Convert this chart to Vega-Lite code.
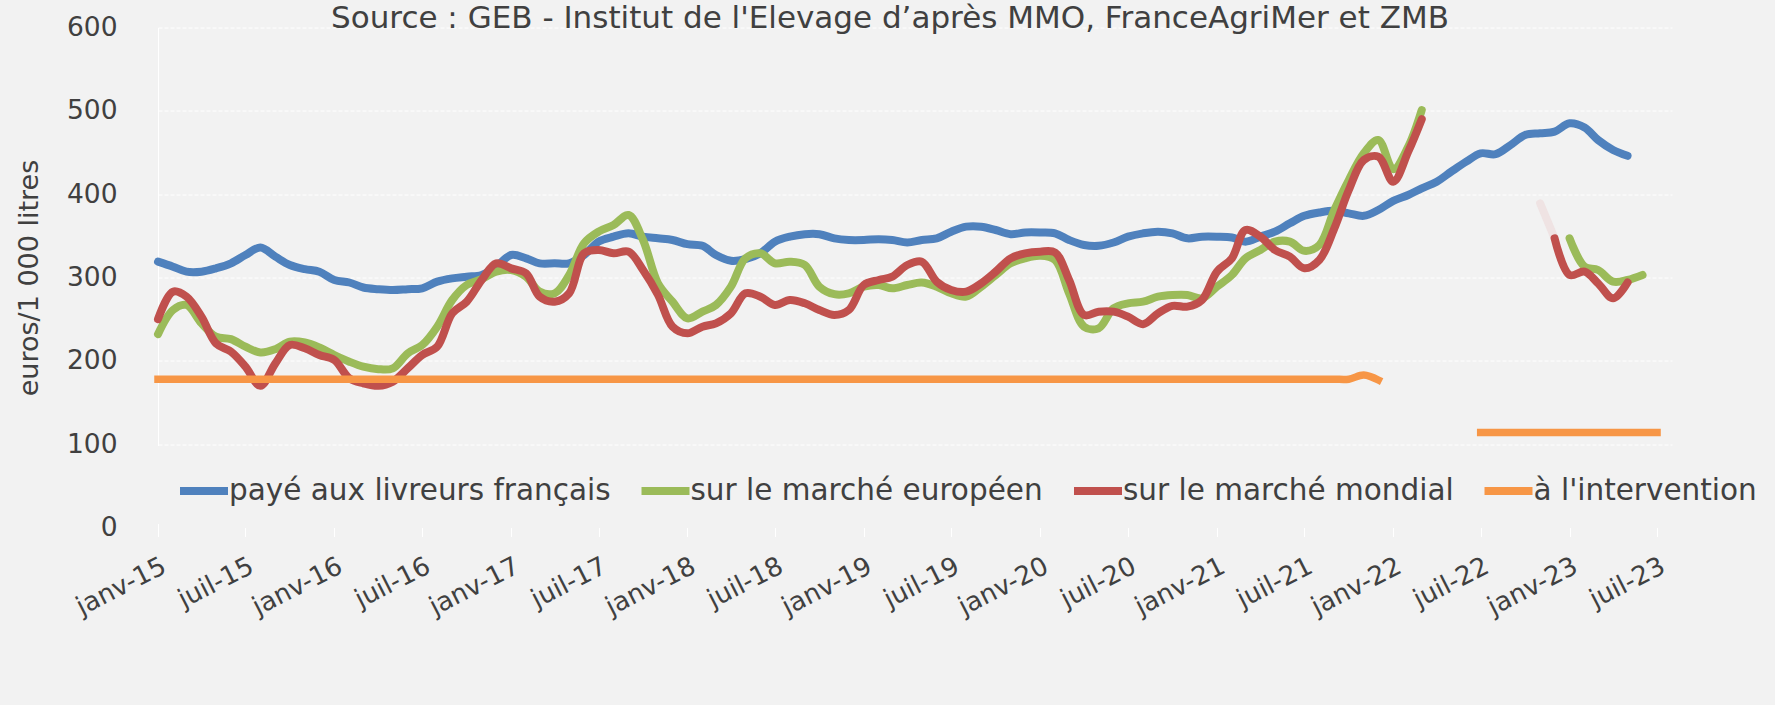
{
  "$schema": "https://vega.github.io/schema/vega-lite/v6.json",
  "width": 1514,
  "height": 500,
  "autosize": {"type": "none"},
  "padding": {"left": 158, "top": 27.5, "right": 103, "bottom": 177.5},
  "background": "#f2f2f2",
  "title": {
    "text": "Source : GEB - Institut de l'Elevage d’après MMO, FranceAgriMer et ZMB",
    "font": "DejaVu Sans", "fontSize": 31, "fontWeight": "normal", "color": "#404040",
    "anchor": "middle", "frame": "group", "offset": 0, "dx": -25, "dy": 20
  },
  "datasets": {
    "paye": [
      {"mois": "2015-01", "valeur": 319}, {"mois": "2015-02", "valeur": 313}, {"mois": "2015-03", "valeur": 307}, {"mois": "2015-04", "valeur": 307},
      {"mois": "2015-05", "valeur": 311}, {"mois": "2015-06", "valeur": 317}, {"mois": "2015-07", "valeur": 327}, {"mois": "2015-08", "valeur": 336},
      {"mois": "2015-09", "valeur": 325}, {"mois": "2015-10", "valeur": 315}, {"mois": "2015-11", "valeur": 310}, {"mois": "2015-12", "valeur": 307},
      {"mois": "2016-01", "valeur": 297}, {"mois": "2016-02", "valeur": 294}, {"mois": "2016-03", "valeur": 288}, {"mois": "2016-04", "valeur": 286},
      {"mois": "2016-05", "valeur": 285}, {"mois": "2016-06", "valeur": 286}, {"mois": "2016-07", "valeur": 287}, {"mois": "2016-08", "valeur": 295},
      {"mois": "2016-09", "valeur": 299}, {"mois": "2016-10", "valeur": 301}, {"mois": "2016-11", "valeur": 303}, {"mois": "2016-12", "valeur": 313},
      {"mois": "2017-01", "valeur": 327}, {"mois": "2017-02", "valeur": 323}, {"mois": "2017-03", "valeur": 317}, {"mois": "2017-04", "valeur": 317},
      {"mois": "2017-05", "valeur": 317}, {"mois": "2017-06", "valeur": 327}, {"mois": "2017-07", "valeur": 343}, {"mois": "2017-08", "valeur": 349},
      {"mois": "2017-09", "valeur": 353}, {"mois": "2017-10", "valeur": 349}, {"mois": "2017-11", "valeur": 347}, {"mois": "2017-12", "valeur": 345},
      {"mois": "2018-01", "valeur": 340}, {"mois": "2018-02", "valeur": 338}, {"mois": "2018-03", "valeur": 327}, {"mois": "2018-04", "valeur": 320},
      {"mois": "2018-05", "valeur": 322}, {"mois": "2018-06", "valeur": 329}, {"mois": "2018-07", "valeur": 343}, {"mois": "2018-08", "valeur": 349},
      {"mois": "2018-09", "valeur": 352}, {"mois": "2018-10", "valeur": 352}, {"mois": "2018-11", "valeur": 347}, {"mois": "2018-12", "valeur": 345},
      {"mois": "2019-01", "valeur": 345}, {"mois": "2019-02", "valeur": 346}, {"mois": "2019-03", "valeur": 345}, {"mois": "2019-04", "valeur": 342},
      {"mois": "2019-05", "valeur": 345}, {"mois": "2019-06", "valeur": 347}, {"mois": "2019-07", "valeur": 355}, {"mois": "2019-08", "valeur": 361},
      {"mois": "2019-09", "valeur": 361}, {"mois": "2019-10", "valeur": 357}, {"mois": "2019-11", "valeur": 352}, {"mois": "2019-12", "valeur": 354},
      {"mois": "2020-01", "valeur": 354}, {"mois": "2020-02", "valeur": 353}, {"mois": "2020-03", "valeur": 345}, {"mois": "2020-04", "valeur": 339},
      {"mois": "2020-05", "valeur": 338}, {"mois": "2020-06", "valeur": 342}, {"mois": "2020-07", "valeur": 349}, {"mois": "2020-08", "valeur": 353},
      {"mois": "2020-09", "valeur": 355}, {"mois": "2020-10", "valeur": 353}, {"mois": "2020-11", "valeur": 347}, {"mois": "2020-12", "valeur": 349},
      {"mois": "2021-01", "valeur": 349}, {"mois": "2021-02", "valeur": 348}, {"mois": "2021-03", "valeur": 343}, {"mois": "2021-04", "valeur": 349},
      {"mois": "2021-05", "valeur": 355}, {"mois": "2021-06", "valeur": 365}, {"mois": "2021-07", "valeur": 374}, {"mois": "2021-08", "valeur": 378},
      {"mois": "2021-09", "valeur": 380}, {"mois": "2021-10", "valeur": 377}, {"mois": "2021-11", "valeur": 374}, {"mois": "2021-12", "valeur": 381},
      {"mois": "2022-01", "valeur": 392}, {"mois": "2022-02", "valeur": 399}, {"mois": "2022-03", "valeur": 407}, {"mois": "2022-04", "valeur": 415},
      {"mois": "2022-05", "valeur": 427}, {"mois": "2022-06", "valeur": 439}, {"mois": "2022-07", "valeur": 449}, {"mois": "2022-08", "valeur": 448},
      {"mois": "2022-09", "valeur": 459}, {"mois": "2022-10", "valeur": 471}, {"mois": "2022-11", "valeur": 473}, {"mois": "2022-12", "valeur": 475},
      {"mois": "2023-01", "valeur": 485}, {"mois": "2023-02", "valeur": 480}, {"mois": "2023-03", "valeur": 465}, {"mois": "2023-04", "valeur": 453},
      {"mois": "2023-05", "valeur": 446}
    ],
    "europeen": [
      {"mois": "2015-01", "valeur": 232}, {"mois": "2015-02", "valeur": 261}, {"mois": "2015-03", "valeur": 267}, {"mois": "2015-04", "valeur": 245},
      {"mois": "2015-05", "valeur": 229}, {"mois": "2015-06", "valeur": 226}, {"mois": "2015-07", "valeur": 217}, {"mois": "2015-08", "valeur": 210},
      {"mois": "2015-09", "valeur": 214}, {"mois": "2015-10", "valeur": 223}, {"mois": "2015-11", "valeur": 222}, {"mois": "2015-12", "valeur": 216},
      {"mois": "2016-01", "valeur": 207}, {"mois": "2016-02", "valeur": 199}, {"mois": "2016-03", "valeur": 193}, {"mois": "2016-04", "valeur": 190},
      {"mois": "2016-05", "valeur": 191}, {"mois": "2016-06", "valeur": 209}, {"mois": "2016-07", "valeur": 219}, {"mois": "2016-08", "valeur": 241},
      {"mois": "2016-09", "valeur": 273}, {"mois": "2016-10", "valeur": 291}, {"mois": "2016-11", "valeur": 298}, {"mois": "2016-12", "valeur": 307},
      {"mois": "2017-01", "valeur": 309}, {"mois": "2017-02", "valeur": 301}, {"mois": "2017-03", "valeur": 283}, {"mois": "2017-04", "valeur": 281},
      {"mois": "2017-05", "valeur": 303}, {"mois": "2017-06", "valeur": 341}, {"mois": "2017-07", "valeur": 355}, {"mois": "2017-08", "valeur": 363},
      {"mois": "2017-09", "valeur": 375}, {"mois": "2017-10", "valeur": 345}, {"mois": "2017-11", "valeur": 293}, {"mois": "2017-12", "valeur": 271},
      {"mois": "2018-01", "valeur": 251}, {"mois": "2018-02", "valeur": 259}, {"mois": "2018-03", "valeur": 267}, {"mois": "2018-04", "valeur": 289},
      {"mois": "2018-05", "valeur": 323}, {"mois": "2018-06", "valeur": 329}, {"mois": "2018-07", "valeur": 317}, {"mois": "2018-08", "valeur": 319},
      {"mois": "2018-09", "valeur": 315}, {"mois": "2018-10", "valeur": 289}, {"mois": "2018-11", "valeur": 280}, {"mois": "2018-12", "valeur": 281},
      {"mois": "2019-01", "valeur": 289}, {"mois": "2019-02", "valeur": 291}, {"mois": "2019-03", "valeur": 287}, {"mois": "2019-04", "valeur": 291},
      {"mois": "2019-05", "valeur": 294}, {"mois": "2019-06", "valeur": 289}, {"mois": "2019-07", "valeur": 281}, {"mois": "2019-08", "valeur": 277},
      {"mois": "2019-09", "valeur": 289}, {"mois": "2019-10", "valeur": 303}, {"mois": "2019-11", "valeur": 317}, {"mois": "2019-12", "valeur": 323},
      {"mois": "2020-01", "valeur": 326}, {"mois": "2020-02", "valeur": 321}, {"mois": "2020-03", "valeur": 281}, {"mois": "2020-04", "valeur": 241},
      {"mois": "2020-05", "valeur": 239}, {"mois": "2020-06", "valeur": 263}, {"mois": "2020-07", "valeur": 269}, {"mois": "2020-08", "valeur": 271},
      {"mois": "2020-09", "valeur": 277}, {"mois": "2020-10", "valeur": 279}, {"mois": "2020-11", "valeur": 279}, {"mois": "2020-12", "valeur": 275},
      {"mois": "2021-01", "valeur": 289}, {"mois": "2021-02", "valeur": 303}, {"mois": "2021-03", "valeur": 323}, {"mois": "2021-04", "valeur": 333},
      {"mois": "2021-05", "valeur": 343}, {"mois": "2021-06", "valeur": 343}, {"mois": "2021-07", "valeur": 332}, {"mois": "2021-08", "valeur": 339},
      {"mois": "2021-09", "valeur": 381}, {"mois": "2021-10", "valeur": 417}, {"mois": "2021-11", "valeur": 449}, {"mois": "2021-12", "valeur": 465},
      {"mois": "2022-01", "valeur": 430}, {"mois": "2022-02", "valeur": 457}, {"mois": "2022-03", "valeur": 501},
      {"mois": "2022-07", "valeur": null},
      {"mois": "2023-01", "valeur": 347}, {"mois": "2023-02", "valeur": 313}, {"mois": "2023-03", "valeur": 309}, {"mois": "2023-04", "valeur": 295},
      {"mois": "2023-05", "valeur": 297}, {"mois": "2023-06", "valeur": 303}
    ],
    "mondial": [
      {"mois": "2015-01", "valeur": 250}, {"mois": "2015-02", "valeur": 283}, {"mois": "2015-03", "valeur": 277}, {"mois": "2015-04", "valeur": 253},
      {"mois": "2015-05", "valeur": 221}, {"mois": "2015-06", "valeur": 211}, {"mois": "2015-07", "valeur": 193}, {"mois": "2015-08", "valeur": 170},
      {"mois": "2015-09", "valeur": 197}, {"mois": "2015-10", "valeur": 219}, {"mois": "2015-11", "valeur": 215}, {"mois": "2015-12", "valeur": 207},
      {"mois": "2016-01", "valeur": 201}, {"mois": "2016-02", "valeur": 179}, {"mois": "2016-03", "valeur": 173}, {"mois": "2016-04", "valeur": 170},
      {"mois": "2016-05", "valeur": 175}, {"mois": "2016-06", "valeur": 191}, {"mois": "2016-07", "valeur": 207}, {"mois": "2016-08", "valeur": 217},
      {"mois": "2016-09", "valeur": 257}, {"mois": "2016-10", "valeur": 271}, {"mois": "2016-11", "valeur": 297}, {"mois": "2016-12", "valeur": 317},
      {"mois": "2017-01", "valeur": 311}, {"mois": "2017-02", "valeur": 305}, {"mois": "2017-03", "valeur": 277}, {"mois": "2017-04", "valeur": 271},
      {"mois": "2017-05", "valeur": 281}, {"mois": "2017-06", "valeur": 329}, {"mois": "2017-07", "valeur": 333}, {"mois": "2017-08", "valeur": 329},
      {"mois": "2017-09", "valeur": 331}, {"mois": "2017-10", "valeur": 309}, {"mois": "2017-11", "valeur": 279}, {"mois": "2017-12", "valeur": 241},
      {"mois": "2018-01", "valeur": 233}, {"mois": "2018-02", "valeur": 241}, {"mois": "2018-03", "valeur": 245}, {"mois": "2018-04", "valeur": 257},
      {"mois": "2018-05", "valeur": 281}, {"mois": "2018-06", "valeur": 277}, {"mois": "2018-07", "valeur": 267}, {"mois": "2018-08", "valeur": 273},
      {"mois": "2018-09", "valeur": 269}, {"mois": "2018-10", "valeur": 261}, {"mois": "2018-11", "valeur": 255}, {"mois": "2018-12", "valeur": 261},
      {"mois": "2019-01", "valeur": 291}, {"mois": "2019-02", "valeur": 297}, {"mois": "2019-03", "valeur": 301}, {"mois": "2019-04", "valeur": 315},
      {"mois": "2019-05", "valeur": 319}, {"mois": "2019-06", "valeur": 295}, {"mois": "2019-07", "valeur": 285}, {"mois": "2019-08", "valeur": 283},
      {"mois": "2019-09", "valeur": 293}, {"mois": "2019-10", "valeur": 307}, {"mois": "2019-11", "valeur": 323}, {"mois": "2019-12", "valeur": 329},
      {"mois": "2020-01", "valeur": 331}, {"mois": "2020-02", "valeur": 330}, {"mois": "2020-03", "valeur": 297}, {"mois": "2020-04", "valeur": 255},
      {"mois": "2020-05", "valeur": 259}, {"mois": "2020-06", "valeur": 259}, {"mois": "2020-07", "valeur": 253}, {"mois": "2020-08", "valeur": 244},
      {"mois": "2020-09", "valeur": 257}, {"mois": "2020-10", "valeur": 266}, {"mois": "2020-11", "valeur": 265}, {"mois": "2020-12", "valeur": 273},
      {"mois": "2021-01", "valeur": 307}, {"mois": "2021-02", "valeur": 323}, {"mois": "2021-03", "valeur": 357}, {"mois": "2021-04", "valeur": 349},
      {"mois": "2021-05", "valeur": 333}, {"mois": "2021-06", "valeur": 325}, {"mois": "2021-07", "valeur": 311}, {"mois": "2021-08", "valeur": 321},
      {"mois": "2021-09", "valeur": 359}, {"mois": "2021-10", "valeur": 405}, {"mois": "2021-11", "valeur": 441}, {"mois": "2021-12", "valeur": 445},
      {"mois": "2022-01", "valeur": 415}, {"mois": "2022-02", "valeur": 451}, {"mois": "2022-03", "valeur": 490},
      {"mois": "2022-07", "valeur": null},
      {"mois": "2022-11", "valeur": 389}, {"mois": "2022-12", "valeur": 347},
      {"mois": "2023-01", "valeur": 303}, {"mois": "2023-02", "valeur": 307}, {"mois": "2023-03", "valeur": 293}, {"mois": "2023-04", "valeur": 275},
      {"mois": "2023-05", "valeur": 294}
    ],
    "intervention": [
      {"mois": "2015-01", "valeur": 178}, {"mois": "2015-02", "valeur": 178}, {"mois": "2015-03", "valeur": 178}, {"mois": "2015-04", "valeur": 178},
      {"mois": "2015-05", "valeur": 178}, {"mois": "2015-06", "valeur": 178}, {"mois": "2015-07", "valeur": 178}, {"mois": "2015-08", "valeur": 178},
      {"mois": "2015-09", "valeur": 178}, {"mois": "2015-10", "valeur": 178}, {"mois": "2015-11", "valeur": 178}, {"mois": "2015-12", "valeur": 178},
      {"mois": "2016-01", "valeur": 178}, {"mois": "2016-02", "valeur": 178}, {"mois": "2016-03", "valeur": 178}, {"mois": "2016-04", "valeur": 178},
      {"mois": "2016-05", "valeur": 178}, {"mois": "2016-06", "valeur": 178}, {"mois": "2016-07", "valeur": 178}, {"mois": "2016-08", "valeur": 178},
      {"mois": "2016-09", "valeur": 178}, {"mois": "2016-10", "valeur": 178}, {"mois": "2016-11", "valeur": 178}, {"mois": "2016-12", "valeur": 178},
      {"mois": "2017-01", "valeur": 178}, {"mois": "2017-02", "valeur": 178}, {"mois": "2017-03", "valeur": 178}, {"mois": "2017-04", "valeur": 178},
      {"mois": "2017-05", "valeur": 178}, {"mois": "2017-06", "valeur": 178}, {"mois": "2017-07", "valeur": 178}, {"mois": "2017-08", "valeur": 178},
      {"mois": "2017-09", "valeur": 178}, {"mois": "2017-10", "valeur": 178}, {"mois": "2017-11", "valeur": 178}, {"mois": "2017-12", "valeur": 178},
      {"mois": "2018-01", "valeur": 178}, {"mois": "2018-02", "valeur": 178}, {"mois": "2018-03", "valeur": 178}, {"mois": "2018-04", "valeur": 178},
      {"mois": "2018-05", "valeur": 178}, {"mois": "2018-06", "valeur": 178}, {"mois": "2018-07", "valeur": 178}, {"mois": "2018-08", "valeur": 178},
      {"mois": "2018-09", "valeur": 178}, {"mois": "2018-10", "valeur": 178}, {"mois": "2018-11", "valeur": 178}, {"mois": "2018-12", "valeur": 178},
      {"mois": "2019-01", "valeur": 178}, {"mois": "2019-02", "valeur": 178}, {"mois": "2019-03", "valeur": 178}, {"mois": "2019-04", "valeur": 178},
      {"mois": "2019-05", "valeur": 178}, {"mois": "2019-06", "valeur": 178}, {"mois": "2019-07", "valeur": 178}, {"mois": "2019-08", "valeur": 178},
      {"mois": "2019-09", "valeur": 178}, {"mois": "2019-10", "valeur": 178}, {"mois": "2019-11", "valeur": 178}, {"mois": "2019-12", "valeur": 178},
      {"mois": "2020-01", "valeur": 178}, {"mois": "2020-02", "valeur": 178}, {"mois": "2020-03", "valeur": 178}, {"mois": "2020-04", "valeur": 178},
      {"mois": "2020-05", "valeur": 178}, {"mois": "2020-06", "valeur": 178}, {"mois": "2020-07", "valeur": 178}, {"mois": "2020-08", "valeur": 178},
      {"mois": "2020-09", "valeur": 178}, {"mois": "2020-10", "valeur": 178}, {"mois": "2020-11", "valeur": 178}, {"mois": "2020-12", "valeur": 178},
      {"mois": "2021-01", "valeur": 178}, {"mois": "2021-02", "valeur": 178}, {"mois": "2021-03", "valeur": 178}, {"mois": "2021-04", "valeur": 178},
      {"mois": "2021-05", "valeur": 178}, {"mois": "2021-06", "valeur": 178}, {"mois": "2021-07", "valeur": 178}, {"mois": "2021-08", "valeur": 178},
      {"mois": "2021-09", "valeur": 178}, {"mois": "2021-10", "valeur": 178}, {"mois": "2021-11", "valeur": 183}, {"mois": "2021-12", "valeur": 177},
      {"mois": "2022-03", "valeur": null},
      {"mois": "2022-07", "valeur": 114}, {"mois": "2022-08", "valeur": 114}, {"mois": "2022-09", "valeur": 114}, {"mois": "2022-10", "valeur": 114},
      {"mois": "2022-11", "valeur": 114}, {"mois": "2022-12", "valeur": 114}, {"mois": "2023-01", "valeur": 114}, {"mois": "2023-02", "valeur": 114},
      {"mois": "2023-03", "valeur": 114}, {"mois": "2023-04", "valeur": 114}, {"mois": "2023-05", "valeur": 114}, {"mois": "2023-06", "valeur": 114},
      {"mois": "2023-07", "valeur": 114}
    ]
  },
  "encoding": {
    "x": {
      "field": "mois", "timeUnit": "utcyearmonth", "type": "temporal", "title": null,
      "scale": {"domain": [{"year": 2015, "month": 1, "date": 1, "utc": true}, {"year": 2023, "month": 8, "date": 1, "utc": true}], "nice": false},
      "axis": {
        "values": [
          {"year": 2015, "month": 1, "date": 1, "utc": true}, {"year": 2015, "month": 7, "date": 1, "utc": true},
          {"year": 2016, "month": 1, "date": 1, "utc": true}, {"year": 2016, "month": 7, "date": 1, "utc": true},
          {"year": 2017, "month": 1, "date": 1, "utc": true}, {"year": 2017, "month": 7, "date": 1, "utc": true},
          {"year": 2018, "month": 1, "date": 1, "utc": true}, {"year": 2018, "month": 7, "date": 1, "utc": true},
          {"year": 2019, "month": 1, "date": 1, "utc": true}, {"year": 2019, "month": 7, "date": 1, "utc": true},
          {"year": 2020, "month": 1, "date": 1, "utc": true}, {"year": 2020, "month": 7, "date": 1, "utc": true},
          {"year": 2021, "month": 1, "date": 1, "utc": true}, {"year": 2021, "month": 7, "date": 1, "utc": true},
          {"year": 2022, "month": 1, "date": 1, "utc": true}, {"year": 2022, "month": 7, "date": 1, "utc": true},
          {"year": 2023, "month": 1, "date": 1, "utc": true}, {"year": 2023, "month": 7, "date": 1, "utc": true}
        ],
        "labelExpr": "(utcmonth(datum.value) == 0 ? 'janv-' : 'juil-') + utcFormat(datum.value, '%y')",
        "labelAngle": -27, "labelAlign": "right", "labelBaseline": "top",
        "labelFont": "DejaVu Sans", "labelFontSize": 26, "labelColor": "#404040",
        "labelPadding": 16, "labelOffset": 0, "labelOverlap": false, "labelBound": false, "labelFlush": false,
        "domain": false, "grid": false, "ticks": true, "tickColor": "#ffffff", "tickSize": 9, "tickWidth": 1
      }
    },
    "y": {
      "field": "valeur", "type": "quantitative", "title": "euros/1 000 litres",
      "scale": {"domain": [0, 600], "nice": false},
      "axis": {
        "values": [0, 100, 200, 300, 400, 500, 600],
        "labelFont": "DejaVu Sans", "labelFontSize": 26.5, "labelColor": "#404040", "labelPadding": 41,
        "ticks": false, "domain": true, "domainColor": "#ffffff", "domainWidth": 1,
        "grid": true, "gridColor": "#ffffff", "gridWidth": 1, "gridDash": [4, 2],
        "gridOpacity": {"condition": {"test": "datum.value == 0", "value": 0}, "value": 1},
        "titleFont": "DejaVu Sans", "titleFontSize": 27, "titleFontWeight": "normal", "titleColor": "#404040",
        "titleX": -129, "titleY": 250, "titleAngle": -90, "titleBaseline": "middle", "titleAlign": "center"
      }
    }
  },
  "layer": [
    {
      "data": {"name": "paye"},
      "mark": {"type": "line", "strokeWidth": 8, "strokeCap": "round", "strokeJoin": "round", "interpolate": "catmull-rom", "timeUnitBandPosition": 0.5, "invalid": "break-paths-filter-domains"},
      "encoding": {
        "color": {
          "datum": "payé aux livreurs français", "type": "nominal",
          "scale": {"domain": ["payé aux livreurs français", "sur le marché européen", "sur le marché mondial", "à l'intervention"], "range": ["#4f81bd", "#9bbb59", "#c0504d", "#f79646"]},
          "legend": {
            "orient": "none", "legendX": -9, "legendY": 418.5, "direction": "horizontal", "title": null,
            "symbolType": "stroke", "symbolSize": 2304, "symbolStrokeWidth": 8, "symbolOffset": 10,
            "labelFont": "DejaVu Sans", "labelFontSize": 29.5, "labelColor": "#404040", "labelOffset": -3, "labelLimit": 0,
            "labelExpr": "indexof(datum.label, 'intervention') >= 0 ? '\u00a0' + datum.label : datum.label",
            "columnPadding": 14.5, "padding": 17, "fillColor": "#f2f2f2", "strokeColor": null
          }
        }
      }
    },
    {
      "data": {"name": "europeen"},
      "mark": {"type": "line", "strokeWidth": 8, "strokeCap": "round", "strokeJoin": "round", "interpolate": "catmull-rom", "timeUnitBandPosition": 0.5, "invalid": "break-paths-filter-domains"},
      "encoding": {
        "color": {"datum": "sur le marché européen", "type": "nominal"}
      }
    },
    {
      "data": {"name": "mondial"},
      "transform": [{"filter": "utcyear(datum.mois) == 2022 && utcmonth(datum.mois) >= 10"}],
      "mark": {"type": "line", "strokeWidth": 8, "strokeCap": "round", "strokeJoin": "round", "interpolate": "catmull-rom", "timeUnitBandPosition": 0.5, "color": "#efe3e3"},
      "encoding": {}
    },
    {
      "data": {"name": "mondial"},
      "transform": [{"filter": "!(utcyear(datum.mois) == 2022 && utcmonth(datum.mois) == 10)"}],
      "mark": {"type": "line", "strokeWidth": 8, "strokeCap": "round", "strokeJoin": "round", "interpolate": "catmull-rom", "timeUnitBandPosition": 0.5, "invalid": "break-paths-filter-domains"},
      "encoding": {
        "color": {"datum": "sur le marché mondial", "type": "nominal"}
      }
    },
    {
      "data": {"name": "intervention"},
      "mark": {"type": "line", "strokeWidth": 7.5, "strokeCap": "square", "strokeJoin": "round", "interpolate": "catmull-rom", "timeUnitBandPosition": 0.5, "invalid": "break-paths-filter-domains"},
      "encoding": {
        "color": {"datum": "à l'intervention", "type": "nominal"}
      }
    }
  ],
  "config": {
    "view": {"stroke": null},
    "font": "DejaVu Sans"
  }
}
